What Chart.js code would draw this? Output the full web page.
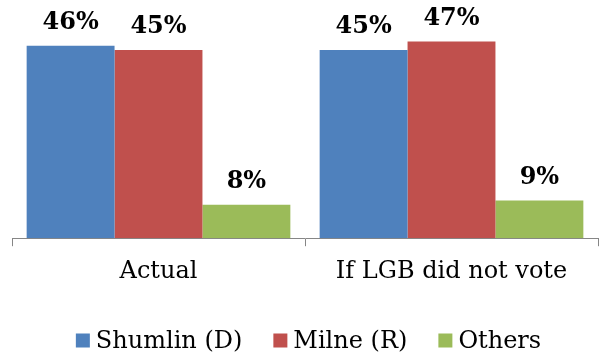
<!DOCTYPE html>
<html>
<head>
<meta charset="utf-8">
<script src="https://cdn.jsdelivr.net/npm/chart.js@4"></script>
<style>
  html, body { margin: 0; padding: 0; background: #ffffff; }
  #wrap { width: 603px; height: 353px; }
</style>
</head>
<body>
<div id="wrap"><canvas id="c" width="603" height="353"></canvas></div>
<script>
// Vote share by candidate, actual result vs. result without LGB voters
const categories = ['Actual', 'If LGB did not vote'];
const shumlin = [46, 45];
const milne = [45, 47];
const others = [8, 9];
const seriesNames = ['Shumlin (D)', 'Milne (R)', 'Others'];
const seriesColors = ['#4F81BD', '#C0504D', '#9BBB59'];

const FONT = "'DejaVu Serif', serif";

// Percent labels above each bar
const valueLabels = {
  id: 'valueLabels',
  afterDatasetsDraw(chart) {
    const ctx = chart.ctx;
    ctx.save();
    ctx.font = "bold 24px " + FONT;
    ctx.fillStyle = '#000000';
    ctx.textAlign = 'center';
    ctx.textBaseline = 'alphabetic';
    chart.data.datasets.forEach((ds, i) => {
      const meta = chart.getDatasetMeta(i);
      meta.data.forEach((el, j) => {
        ctx.fillText(ds.data[j] + '%', el.x, el.y - 17);
      });
    });
    ctx.restore();
  }
};

// Legend row along the bottom: square swatch, then series name
const bottomLegend = {
  id: 'bottomLegend',
  afterDraw(chart) {
    const ctx = chart.ctx;
    const box = 14, textGap = 6, itemGap = 31, centerY = 340.5, centerX = 308.5;
    ctx.save();
    ctx.font = "24px " + FONT;
    ctx.textBaseline = 'middle';
    ctx.textAlign = 'left';
    const widths = chart.data.datasets.map(ds => ctx.measureText(ds.label).width);
    const total = widths.reduce((a, w) => a + box + textGap + w, 0) + itemGap * (widths.length - 1);
    let x = centerX - total / 2;
    chart.data.datasets.forEach((ds, i) => {
      ctx.fillStyle = ds.backgroundColor;
      ctx.fillRect(x, centerY - box / 2, box, box);
      x += box + textGap;
      ctx.fillStyle = '#000000';
      ctx.fillText(ds.label, x, centerY + 1);
      x += widths[i] + itemGap;
    });
    ctx.restore();
  }
};

const seriesData = [shumlin, milne, others];

new Chart(document.getElementById('c'), {
  type: 'bar',
  data: {
    labels: categories,
    datasets: seriesNames.map((name, i) => ({
      label: name,
      data: seriesData[i],
      backgroundColor: seriesColors[i],
      borderWidth: 0,
      categoryPercentage: 0.9,
      barPercentage: 1.0
    }))
  },
  options: {
    responsive: false,
    animation: false,
    devicePixelRatio: 1,
    layout: { padding: { top: 29, left: 12, right: 5, bottom: 56 } },
    scales: {
      x: {
        grid: {
          offset: true,
          drawOnChartArea: false,
          tickLength: 8,
          color: '#868686'
        },
        border: { display: true, color: '#868686', width: 1 },
        ticks: {
          color: '#000000',
          padding: 11,
          font: { family: FONT, size: 24 }
        }
      },
      y: {
        display: false,
        min: 0,
        max: 50
      }
    },
    plugins: {
      legend: { display: false },
      tooltip: { enabled: false }
    }
  },
  plugins: [valueLabels, bottomLegend]
});
</script>
</body>
</html>
